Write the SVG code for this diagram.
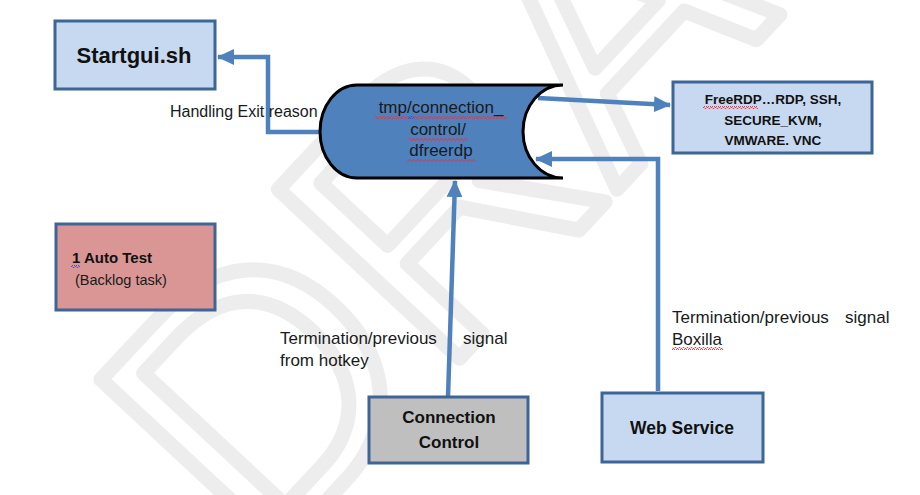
<svg xmlns="http://www.w3.org/2000/svg" width="920" height="495" viewBox="0 0 920 495">
<defs>
<style>
.box{stroke:#3d6596;stroke-width:3}
.blue{fill:#c6d9f1}
.lbl{font-family:"Liberation Sans",Arial,sans-serif;fill:#1a1a1a}
.bold{font-family:"Liberation Sans",Arial,sans-serif;font-weight:bold;fill:#111}
.conn{fill:none;stroke:#4f81bd;stroke-width:4.5;stroke-linejoin:miter}
.wm{font-family:"Liberation Sans",Arial,sans-serif;font-size:360px;fill:none;stroke:#ededed;stroke-width:15;stroke-linejoin:round}
</style>
<marker id="ah" markerUnits="userSpaceOnUse" markerWidth="18" markerHeight="16" refX="16" refY="8" orient="auto">
<path d="M0,0 L17,8 L0,16 z" fill="#4f81bd"/>
</marker>
<pattern id="wavyR" patternUnits="userSpaceOnUse" width="4" height="3">
<path d="M0,2.5 L1,0.5 L2,0.5 L3,2.5 L4,2.5" fill="none" stroke="#e03545" stroke-width="0.9"/>
</pattern>
<pattern id="wavyB" patternUnits="userSpaceOnUse" width="4" height="3">
<path d="M0,2.5 L1,0.5 L2,0.5 L3,2.5 L4,2.5" fill="none" stroke="#3050e0" stroke-width="0.9"/>
</pattern>
</defs>
<rect width="920" height="495" fill="#ffffff"/>
<text class="wm" transform="translate(262,570) rotate(-47)">DRAFT</text>

<g id="connectors">
<path class="conn" d="M322,132 H268 V57 H218" marker-end="url(#ah)"/>
<path class="conn" d="M538,98 L670,105" marker-end="url(#ah)"/>
<path class="conn" d="M658,391 V159 H536" marker-end="url(#ah)"/>
<path class="conn" d="M448,397 L455,181" marker-end="url(#ah)"/>
</g>

<g id="startgui">
<rect class="box blue" x="55" y="21" width="160" height="68"/>
<text class="bold" x="134" y="63" font-size="22" text-anchor="middle">Startgui.sh</text>
</g>

<g id="handling-label">
<text class="lbl" x="170" y="117" font-size="16">Handling Exit reason</text>
</g>

<g id="dfreerdp">
<path d="M357,85 H563 A40,46.5 0 0 0 563,178 H357 A37,46.5 0 0 1 357,85 Z" fill="#4f81bd" stroke="#000" stroke-width="3"/>
<text class="lbl" x="441" y="113" font-size="17" text-anchor="middle">tmp/connection_</text>
<text class="lbl" x="438" y="135" font-size="17" text-anchor="middle">control/</text>
<text class="lbl" x="441" y="156" font-size="17" text-anchor="middle">dfreerdp</text>
<rect x="375" y="116" width="132" height="3" fill="url(#wavyR)"/>
<rect x="408" y="116" width="6" height="3" fill="url(#wavyB)"/>
<rect x="409" y="138" width="58" height="3" fill="url(#wavyR)"/>
<rect x="407" y="159" width="69" height="3" fill="url(#wavyR)"/>
</g>

<g id="freerdp">
<rect class="box blue" x="673" y="82" width="199" height="71"/>
<text class="bold" x="773" y="104" font-size="13.5" text-anchor="middle">FreeRDP…RDP, SSH,</text>
<text class="bold" x="773" y="125" font-size="13.5" text-anchor="middle">SECURE_KVM,</text>
<text class="bold" x="773" y="145" font-size="13.5" text-anchor="middle">VMWARE. VNC</text>
<rect x="703" y="106" width="55" height="3" fill="url(#wavyR)"/>
</g>

<g id="autotest">
<rect class="box" x="56" y="224" width="159" height="86" fill="#d99694"/>
<text class="bold" x="72" y="263" font-size="15">1 Auto Test</text>
<text class="lbl" x="75" y="285" font-size="14.5">(Backlog task)</text>
<rect x="71" y="265" width="9" height="3" fill="url(#wavyB)"/>
</g>

<g id="hotkey-label">
<text class="lbl" x="280" y="344" font-size="17">Termination/previous</text>
<text class="lbl" x="463" y="344" font-size="17">signal</text>
<text class="lbl" x="280" y="366" font-size="17">from hotkey</text>
</g>

<g id="connection-control">
<rect class="box" x="369" y="397" width="159" height="66" fill="#bfbfbf"/>
<text class="bold" x="449" y="423" font-size="17" text-anchor="middle">Connection</text>
<text class="bold" x="449" y="448" font-size="17" text-anchor="middle">Control</text>
</g>

<g id="boxilla-label">
<text class="lbl" x="672" y="323" font-size="17">Termination/previous</text>
<text class="lbl" x="845" y="323" font-size="17">signal</text>
<text class="lbl" x="672" y="345" font-size="17">Boxilla</text>
<rect x="672" y="347" width="51" height="3" fill="url(#wavyR)"/>
</g>

<g id="web-service">
<rect class="box blue" x="602" y="393" width="161" height="69"/>
<text class="bold" x="682" y="434" font-size="17.5" text-anchor="middle">Web Service</text>
</g>
</svg>
